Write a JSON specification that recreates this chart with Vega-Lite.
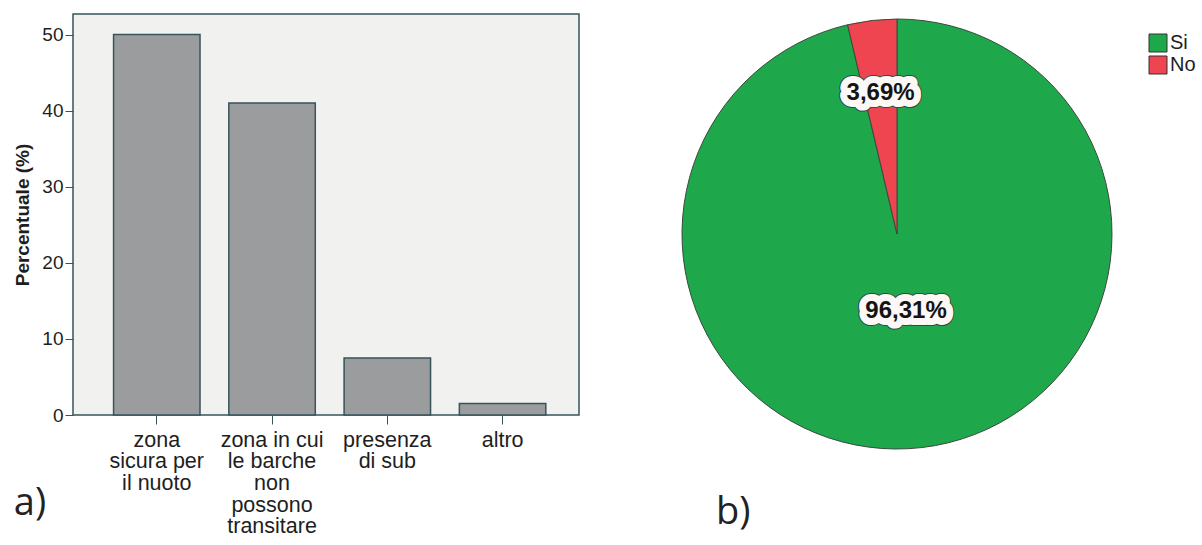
{
  "$schema": "https://vega.github.io/schema/vega-lite/v6.json",
  "padding": {"left": 13, "top": 13, "right": 2, "bottom": 0},
  "background": "white",
  "spacing": 100,
  "config": {
    "font": "Liberation Sans",
    "axis": {"labelColor": "#1e1e1e", "titleColor": "#1e1e1e", "tickColor": "#36545a", "domainColor": "#36545a"}
  },
  "resolve": {"scale": {"color": "independent"}, "legend": {"color": "independent"}},
  "hconcat": [
    {
      "width": 506,
      "height": 401,
      "view": {"fill": "#f1f1f0", "stroke": "#36545a", "strokeWidth": 1.5},
      "title": {"text": "a)", "orient": "bottom", "anchor": "start", "frame": "bounds", "font": "Open Sans", "fontSize": 38, "fontWeight": "normal", "color": "#222222", "baseline": "alphabetic", "offset": -22},
      "data": {
        "values": [
          {"categoria": "zona\nsicura per\nil nuoto", "percentuale": 50.0},
          {"categoria": "zona in cui\nle barche\nnon\npossono\ntransitare", "percentuale": 41.0},
          {"categoria": "presenza\ndi sub", "percentuale": 7.5},
          {"categoria": "altro", "percentuale": 1.5}
        ]
      },
      "mark": {"type": "bar", "fill": "#9b9c9e", "stroke": "#36545a", "strokeWidth": 1.5},
      "encoding": {
        "x": {
          "field": "categoria", "type": "nominal", "sort": null,
          "scale": {"paddingInner": 0.25, "paddingOuter": 0.32, "align": 0.55},
          "axis": {"title": null, "labelAngle": 0, "labelExpr": "split(datum.label, '\\n')", "labelFontSize": 21.5, "labelLineHeight": 21.7, "labelPadding": 5, "tickSize": 9, "domain": false, "labelBaseline": "top"}
        },
        "y": {
          "field": "percentuale", "type": "quantitative",
          "scale": {"domain": [0, 52.7], "nice": false},
          "axis": {"title": "Percentuale (%)", "titleFontSize": 19, "titleFontWeight": "bold", "titlePadding": 9, "values": [0, 10, 20, 30, 40, 50], "grid": false, "tickSize": 8, "labelPadding": 2, "labelFontSize": 19, "domain": false}
        }
      }
    },
    {
      "width": 430,
      "height": 440,
      "view": {"stroke": null},
      "title": {"text": "b)", "orient": "bottom", "anchor": "start", "frame": "group", "dx": 34, "font": "Open Sans", "fontSize": 38, "fontWeight": "normal", "color": "#222222", "baseline": "alphabetic", "offset": 70},
      "data": {
        "values": [
          {"risposta": "Si", "percentuale": 96.31},
          {"risposta": "No", "percentuale": 3.69}
        ]
      },
      "encoding": {
        "theta": {"field": "percentuale", "type": "quantitative", "stack": true},
        "order": {"field": "risposta", "sort": "descending"}
      },
      "layer": [
        {
          "mark": {"type": "arc", "outerRadius": 215, "stroke": "#3a4a3e", "strokeWidth": 1},
          "encoding": {
            "color": {
              "field": "risposta", "type": "nominal",
              "scale": {"domain": ["Si", "No"], "range": ["#1fa84b", "#ee4550"]},
              "legend": {"orient": "none", "legendX": 466, "legendY": 19, "title": null, "symbolType": "square", "symbolSize": 324, "symbolStrokeColor": "#333333", "symbolStrokeWidth": 1, "symbolOpacity": 1, "labelFontSize": 20, "labelOffset": 2, "rowPadding": 0, "labelColor": "#1e1e1e"}
            }
          }
        },
        {
          "mark": {"type": "text", "text": {"expr": "replace(format(datum.percentuale, '.2f'), '.', ',') + '%'"}, "radius": {"expr": "datum.risposta == 'No' ? 142 : 78"}, "font": "Liberation Sans", "fontWeight": "bold", "fontSize": 24, "align": "center", "baseline": "middle", "fill": "#2d4a44", "stroke": "#2d4a44", "strokeWidth": 16, "strokeJoin": "round"},
          "encoding": {"detail": {"field": "risposta"}}
        },
        {
          "mark": {"type": "text", "text": {"expr": "replace(format(datum.percentuale, '.2f'), '.', ',') + '%'"}, "radius": {"expr": "datum.risposta == 'No' ? 142 : 78"}, "font": "Liberation Sans", "fontWeight": "bold", "fontSize": 24, "align": "center", "baseline": "middle", "fill": "#fbf8f6", "stroke": "#fbf8f6", "strokeWidth": 14, "strokeJoin": "round"},
          "encoding": {"detail": {"field": "risposta"}}
        },
        {
          "mark": {"type": "text", "text": {"expr": "replace(format(datum.percentuale, '.2f'), '.', ',') + '%'"}, "radius": {"expr": "datum.risposta == 'No' ? 142 : 78"}, "font": "Liberation Sans", "fontWeight": "bold", "fontSize": 24, "align": "center", "baseline": "middle", "fill": "#141414"},
          "encoding": {"detail": {"field": "risposta"}}
        }
      ]
    }
  ]
}
